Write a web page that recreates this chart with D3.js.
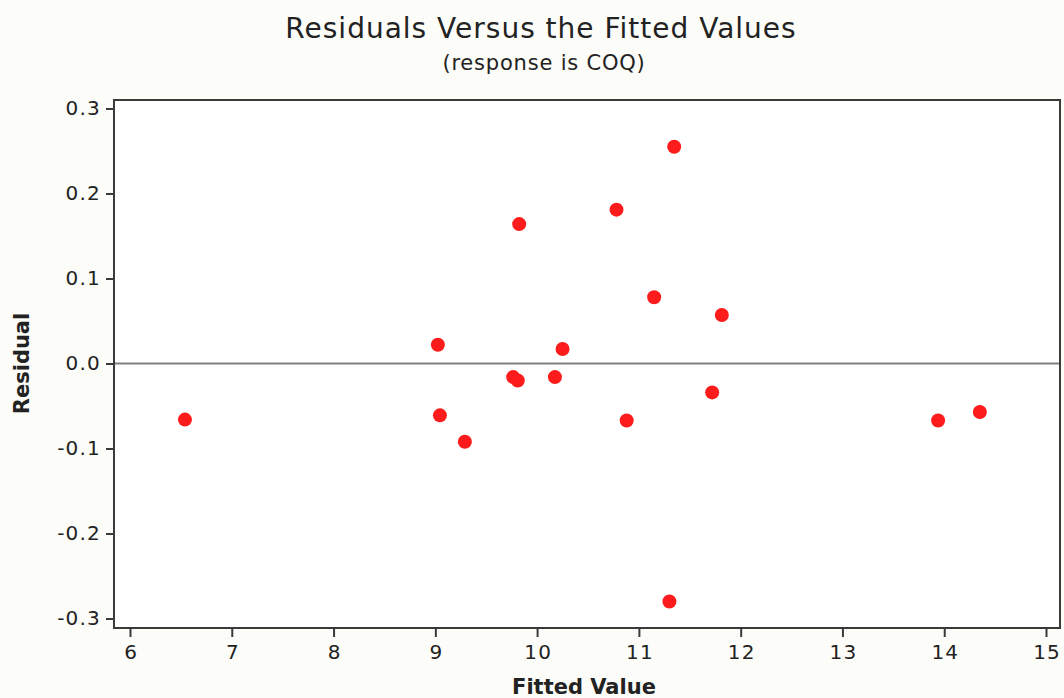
<!DOCTYPE html>
<html>
<head>
<meta charset="utf-8">
<script src="https://cdn.jsdelivr.net/npm/d3@7"></script>
<style>
  body { margin: 0; background: #fcfcf8; }
  svg { display: block; }
  text { font-family: "DejaVu Sans", sans-serif; fill: #222; }
</style>
</head>
<body>
<script>
// fitted values and residuals
const fitted = [6.54, 9.025, 9.045, 9.29, 9.824, 9.765, 9.81, 10.175, 10.25,
                10.78, 10.88, 11.347, 11.15, 11.30, 11.72, 11.815, 13.94, 14.35]
const residual = [-0.066, 0.022, -0.061, -0.092, 0.164, -0.016, -0.020, -0.016, 0.017,
                  0.181, -0.067, 0.255, 0.078, -0.280, -0.034, 0.057, -0.067, -0.057]
const xTicks = [6, 7, 8, 9, 10, 11, 12, 13, 14, 15]
const yTicks = [0.3, 0.2, 0.1, 0.0, -0.1, -0.2, -0.3]

const width = 1064, height = 698
const box = {left: 114, right: 1060, top: 100, bottom: 628}

const x = d3.scaleLinear().domain([6, 15]).range([130, 1046])
const y = d3.scaleLinear().domain([-0.3, 0.3]).range([618.5, 108.5])

const svg = d3.select("body").append("svg")
    .attr("width", width).attr("height", height)

svg.append("rect")
    .attr("x", box.left).attr("y", box.top)
    .attr("width", box.right - box.left).attr("height", box.bottom - box.top)
    .attr("fill", "#fff")

// zero reference line
svg.append("line")
    .attr("x1", box.left).attr("x2", box.right)
    .attr("y1", y(0)).attr("y2", y(0))
    .attr("stroke", "#808080").attr("stroke-width", 2)

// points
svg.append("g")
  .selectAll("circle")
  .data(fitted.map((f, i) => [f, residual[i]]))
  .join("circle")
    .attr("cx", d => x(d[0]))
    .attr("cy", d => y(d[1]))
    .attr("r", 7)
    .attr("fill", "#fd1b1b")

// frame
svg.append("rect")
    .attr("x", box.left).attr("y", box.top)
    .attr("width", box.right - box.left).attr("height", box.bottom - box.top)
    .attr("fill", "none").attr("stroke", "#3a3a3a").attr("stroke-width", 2)

// axes
const xAxis = svg.append("g")
    .attr("transform", `translate(0,${box.bottom})`)
    .call(d3.axisBottom(x).tickValues(xTicks).tickSize(9).tickPadding(8).tickFormat(d3.format("d")))
xAxis.select(".domain").remove()

const yAxis = svg.append("g")
    .attr("transform", `translate(${box.left},0)`)
    .call(d3.axisLeft(y).tickValues(yTicks).tickSize(8).tickPadding(5).tickFormat(d3.format(".1f")))
yAxis.select(".domain").remove()

svg.selectAll(".tick line").attr("stroke", "#3a3a3a").attr("stroke-width", 2)
svg.selectAll(".tick text")
    .attr("font-family", "DejaVu Sans, sans-serif")
    .attr("font-size", 20)
    .attr("letter-spacing", 1.2)
    .attr("fill", "#333")
yAxis.selectAll(".tick text").text(d => d3.format(".1f")(d).replace("−", "-"))
xAxis.selectAll(".tick text").attr("dx", 0.6)

// titles
svg.append("text")
    .attr("x", 541).attr("y", 38)
    .attr("text-anchor", "middle")
    .attr("font-size", 28)
    .attr("letter-spacing", 1)
    .text("Residuals Versus the Fitted Values")

svg.append("text")
    .attr("x", 544).attr("y", 70)
    .attr("text-anchor", "middle")
    .attr("font-size", 21)
    .attr("letter-spacing", 0.8)
    .text("(response is COQ)")

svg.append("text")
    .attr("x", 584).attr("y", 694)
    .attr("text-anchor", "middle")
    .attr("font-size", 21)
    .attr("font-weight", "bold")
    .text("Fitted Value")

svg.append("text")
    .attr("transform", `translate(29,${y(0)}) rotate(-90)`)
    .attr("text-anchor", "middle")
    .attr("font-size", 21)
    .attr("font-weight", "bold")
    .text("Residual")
</script>
</body>
</html>
